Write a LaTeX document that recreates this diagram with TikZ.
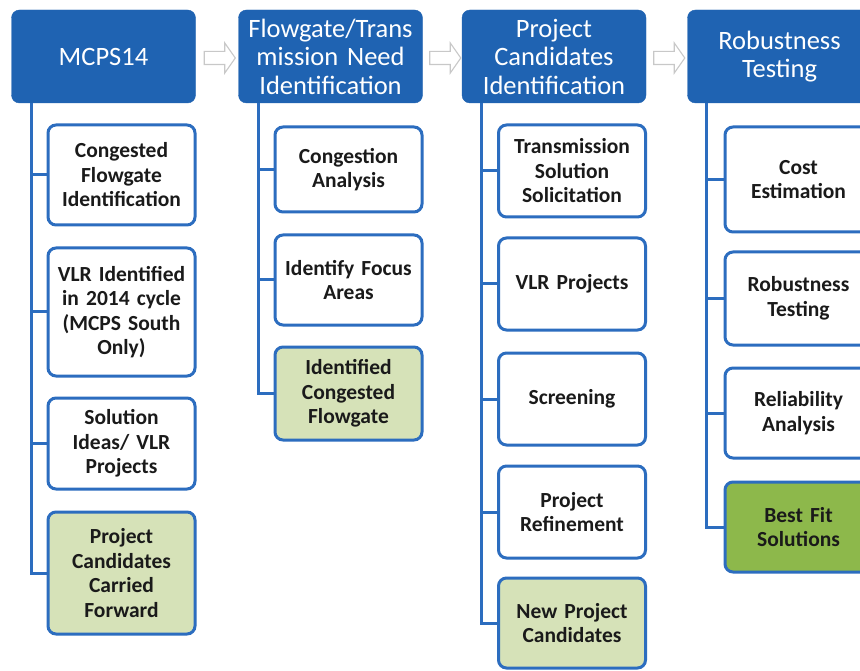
\documentclass[tikz,border=0pt]{standalone}
\usepackage{fontspec}
\setmainfont{Carlito}[WordSpace=0.8]
\usetikzlibrary{shapes.arrows}
\definecolor{hdrblue}{HTML}{1F63B2}
\definecolor{bordblue}{HTML}{2C6DBF}
\definecolor{lgreen}{HTML}{D6E2B8}
\definecolor{dgreen}{HTML}{8DB84B}
\definecolor{txt}{HTML}{1A1A1A}
\definecolor{arrgray}{HTML}{C8C8C8}
\begin{document}
\begin{tikzpicture}[x=1pt,y=-1pt,
  hdr/.style={draw=hdrblue, fill=hdrblue, rounded corners=8pt, minimum width=184pt,
    minimum height=93pt, text=white, font=\fontsize{26.5}{28.5}\selectfont,
    align=center, inner sep=0pt, text width=178pt},
  box/.style={draw=bordblue, line width=3pt, fill=white, rounded corners=8pt,
    minimum width=147pt, text width=142pt, align=center,
    font=\fontsize{21.5}{24.5}\selectfont\bfseries, text=txt, inner sep=0pt},
  gbox/.style={box, fill=lgreen},
  dbox/.style={box, fill=dgreen},
  conn/.style={draw=bordblue, line width=3pt},
  harrow/.style={single arrow, draw=arrgray, fill=white, line width=1.1pt,
    minimum height=31pt, minimum width=29pt, single arrow head extend=8.5pt,
    single arrow tip angle=110, inner sep=6pt}
]
\useasboundingbox (0,0) rectangle (860,671);
\clip (0,0) rectangle (860,671);
\fill[white] (0,0) rectangle (860,671);

% headers
\node[hdr] (h1) at (103.5,56.5) {MCPS14};
\node[hdr] (h2) at (330.5,56.5) {Flowgate/Trans\\mission Need\\Identification};
\node[hdr] (h3) at (554,56.5) {Project\\Candidates\\Identification};
\node[hdr] (h4) at (779.5,56.5) {Robustness\\Testing};

% arrows between headers
\node[harrow] (a1) at (217.5,58) {};
\node[harrow] (a2) at (443,58) {};
\node[harrow] (a3) at (667,58) {};

% column 1
\node[box, minimum height=100pt] (b11) at (121.5,175) {Congested\\Flowgate\\Identification};
\node[box, minimum height=128pt] (b12) at (121.5,312) {VLR Identified\\in 2014 cycle\\(MCPS South\\Only)};
\node[box, minimum height=91pt] (b13) at (121.5,443.5) {Solution\\Ideas/ VLR\\Projects};
\node[gbox, minimum height=122pt] (b14) at (121.5,573) {Project\\Candidates\\Carried\\Forward};

% column 2
\node[box, minimum height=85pt] (b21) at (348.5,169.5) {Congestion\\Analysis};
\node[box, minimum height=90pt] (b22) at (348.5,280) {Identify Focus\\Areas};
\node[gbox, minimum height=93pt] (b23) at (348.5,393.5) {Identified\\Congested\\Flowgate};

% column 3
\node[box, minimum height=92pt] (b31) at (572,171) {Transmission\\Solution\\Solicitation};
\node[box, minimum height=92pt] (b32) at (572,284) {VLR Projects};
\node[box, minimum height=92pt] (b33) at (572,399) {Screening};
\node[box, minimum height=92pt] (b34) at (572,512) {Project\\Refinement};
\node[gbox, minimum height=90pt] (b35) at (572,623) {New Project\\Candidates};

% column 4
\node[box, minimum height=105pt] (b41) at (798.5,179.5) {Cost\\Estimation};
\node[box, minimum height=93pt] (b42) at (798.5,298.5) {Robustness\\Testing};
\node[box, minimum height=90pt] (b43) at (798.5,413) {Reliability\\Analysis};
\node[dbox, minimum height=90pt] (b44) at (798.5,527) {Best Fit\\Solutions};

% trunk coordinates
\coordinate (c1) at ([xshift=20pt]h1.south west);
\coordinate (c2) at ([xshift=20pt]h2.south west);
\coordinate (c3) at ([xshift=20pt]h3.south west);
\coordinate (c4) at ([xshift=19pt]h4.south west);

% column 1 connectors
\draw[conn] (c1) |- (b14.west);
\draw[conn] (c1 |- b11.west) -- (b11.west);
\draw[conn] (c1 |- b12.west) -- (b12.west);
\draw[conn] (c1 |- b13.west) -- (b13.west);

% column 2 connectors
\draw[conn] (c2) |- (b23.west);
\draw[conn] (c2 |- b21.west) -- (b21.west);
\draw[conn] (c2 |- b22.west) -- (b22.west);

% column 3 connectors
\draw[conn] (c3) |- (b35.west);
\draw[conn] (c3 |- b31.west) -- (b31.west);
\draw[conn] (c3 |- b32.west) -- (b32.west);
\draw[conn] (c3 |- b33.west) -- (b33.west);
\draw[conn] (c3 |- b34.west) -- (b34.west);

% column 4 connectors
\draw[conn] (c4) |- (b44.west);
\draw[conn] (c4 |- b41.west) -- (b41.west);
\draw[conn] (c4 |- b42.west) -- (b42.west);
\draw[conn] (c4 |- b43.west) -- (b43.west);
\end{tikzpicture}
\end{document}
